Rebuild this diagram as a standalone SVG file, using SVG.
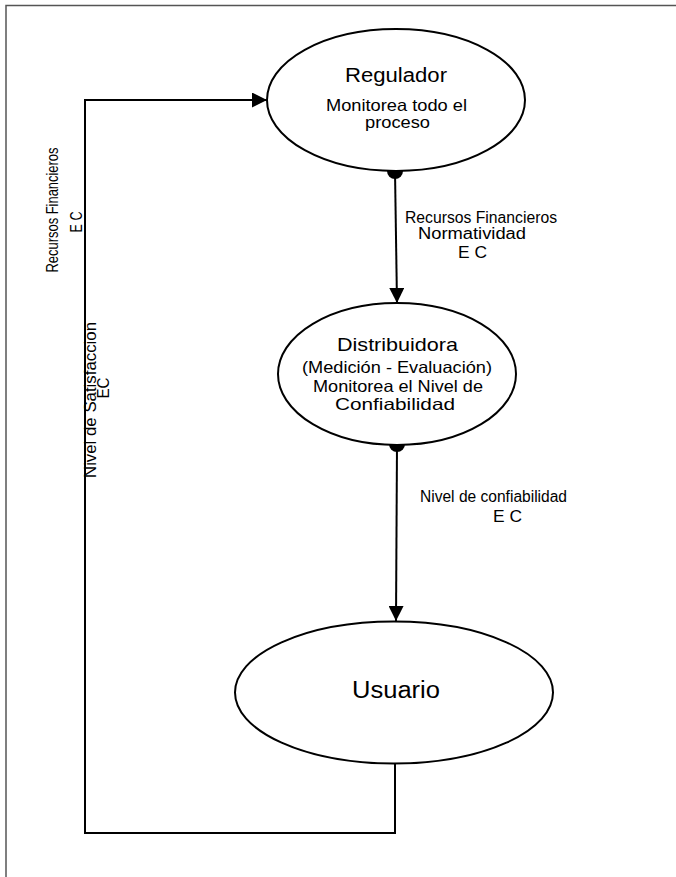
<svg xmlns="http://www.w3.org/2000/svg" width="676" height="877" viewBox="0 0 676 877">
  <style>
    .node { fill: #fff; stroke: #000; stroke-width: 2; }
    .wire { fill: none; stroke: #000; stroke-width: 2; }
    .frame { fill: none; stroke: #555; stroke-width: 1.5; }
    text { font-family: "Liberation Sans", Arial, sans-serif; fill: #000; }
    .title { text-anchor: middle; }
    .sub { text-anchor: middle; font-size: 16.5px; }
    .lbl { font-size: 16px; }
    .side { text-anchor: middle; font-size: 17px; }
  </style>
  <defs>
    <marker id="arrow" viewBox="0 0 10 10" refX="10" refY="5" markerWidth="15" markerHeight="15" markerUnits="userSpaceOnUse" orient="auto">
      <path d="M0,0 L10,5 L0,10 Z" fill="#000"/>
    </marker>
  </defs>

  <rect width="676" height="877" fill="#fff"/>
  <!-- page border -->
  <path class="frame" d="M6,877 V5.5 H676"/>

  <!-- connectors -->
  <g id="connectors">
    <line class="wire" x1="395" y1="171" x2="397" y2="303" marker-end="url(#arrow)"/>
    <circle cx="395" cy="171" r="8" fill="#000"/>
    <line class="wire" x1="397" y1="444" x2="396" y2="621" marker-end="url(#arrow)"/>
    <circle cx="397" cy="444" r="8" fill="#000"/>
    <path class="wire" d="M395,763 V833 H85 V100 H267" marker-end="url(#arrow)"/>

    <text class="lbl" x="405" y="223" textLength="152" lengthAdjust="spacingAndGlyphs">Recursos Financieros</text>
    <text class="lbl" x="418" y="239" textLength="108" lengthAdjust="spacingAndGlyphs">Normatividad</text>
    <text class="lbl" x="458" y="258" textLength="29" lengthAdjust="spacingAndGlyphs">E C</text>

    <text class="lbl" x="420" y="502" textLength="147" lengthAdjust="spacingAndGlyphs">Nivel de confiabilidad</text>
    <text class="lbl" x="493" y="522" textLength="29" lengthAdjust="spacingAndGlyphs">E C</text>

    <text class="side" transform="translate(58,210) rotate(-90)" textLength="125" lengthAdjust="spacingAndGlyphs">Recursos Financieros</text>
    <text class="side" transform="translate(82,222) rotate(-90)" textLength="21" lengthAdjust="spacingAndGlyphs">E C</text>
    <text class="side" transform="translate(96,400) rotate(-90)" textLength="156" lengthAdjust="spacingAndGlyphs">Nivel de Satisfaccion</text>
    <text class="side" transform="translate(109,388) rotate(-90)" textLength="21" lengthAdjust="spacingAndGlyphs">EC</text>
  </g>

  <g id="regulador">
    <ellipse class="node" cx="396" cy="100" rx="129" ry="71"/>
    <text class="title" x="396" y="82" font-size="20" textLength="102" lengthAdjust="spacingAndGlyphs">Regulador</text>
    <text class="sub" x="396.5" y="111" textLength="141" lengthAdjust="spacingAndGlyphs">Monitorea todo el</text>
    <text class="sub" x="397.5" y="128" textLength="65" lengthAdjust="spacingAndGlyphs">proceso</text>
  </g>

  <g id="distribuidora">
    <ellipse class="node" cx="397" cy="374" rx="119" ry="71"/>
    <text class="title" x="397.5" y="351" font-size="19" textLength="121" lengthAdjust="spacingAndGlyphs">Distribuidora</text>
    <text class="sub" x="397" y="373" textLength="190" lengthAdjust="spacingAndGlyphs">(Medición - Evaluación)</text>
    <text class="sub" x="398" y="392" textLength="170" lengthAdjust="spacingAndGlyphs">Monitorea el Nivel de</text>
    <text class="sub" x="395" y="410" textLength="120" lengthAdjust="spacingAndGlyphs">Confiabilidad</text>
  </g>

  <g id="usuario">
    <ellipse class="node" cx="394" cy="692.5" rx="159" ry="71"/>
    <text class="title" x="396" y="698" font-size="23" textLength="88" lengthAdjust="spacingAndGlyphs">Usuario</text>
  </g>
</svg>
